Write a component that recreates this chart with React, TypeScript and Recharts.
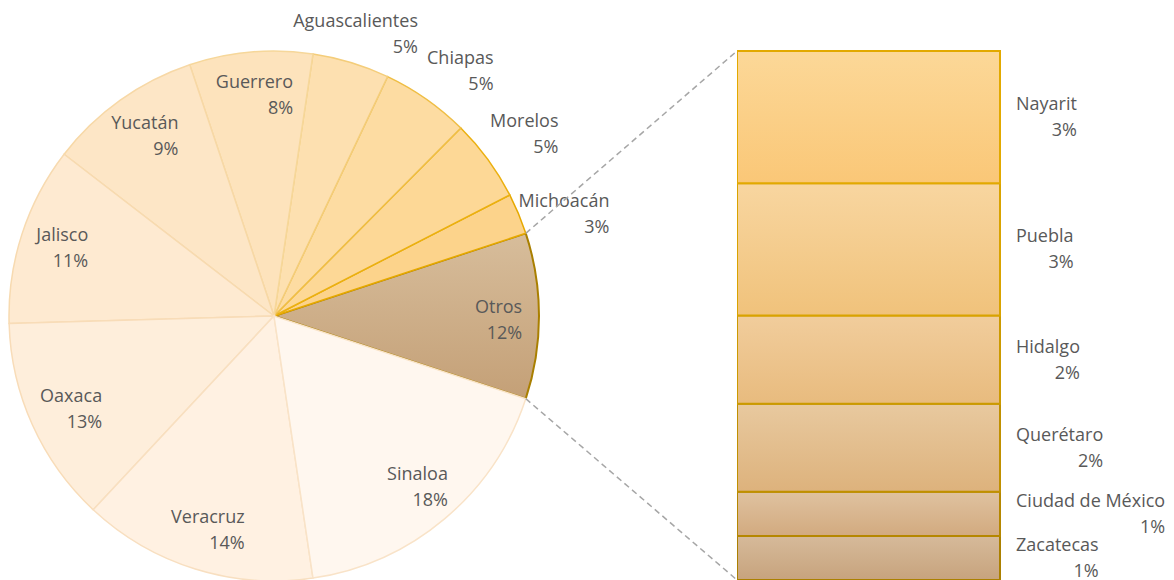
import { PieChart, Pie, Cell, BarChart, Bar, XAxis, YAxis, LabelList } from 'recharts'

// main pie, counter-clockwise from the "Otros" slice on the right
const pieNames = ['Otros', 'Michoacán', 'Morelos', 'Chiapas', 'Aguascalientes', 'Guerrero', 'Yucatán', 'Jalisco', 'Oaxaca', 'Veracruz', 'Sinaloa']
const pieValues = [10.1, 2.5, 5.0, 5.4, 4.7, 7.5, 9.4, 10.9, 12.6, 14.3, 17.6]
const pieLabels = ['12%', '3%', '5%', '5%', '5%', '8%', '9%', '11%', '13%', '14%', '18%']

// breakdown of "Otros", top to bottom
const barNames = ['Nayarit', 'Puebla', 'Hidalgo', 'Querétaro', 'Ciudad de México', 'Zacatecas']
const barValues = [3, 3, 2, 2, 1, 1]
const barLabels = ['3%', '3%', '2%', '2%', '1%', '1%']

const pieData = pieNames.map((name, i) => ({ name, value: pieValues[i], label: pieLabels[i] }))
const barRow: Record<string, number | string> = { cat: 'Otros' }
barNames.forEach((n, i) => { barRow['s' + i] = barValues[i] })
const barData = [barRow]

const pieFill = ['url(#otrosGrad)', '#fcd38b', '#fdd896', '#fddca2', '#fde0b0', '#fde3bc', '#fde6c6', '#feead1', '#feeedb', '#fff1e2', '#fff7ef']
const pieStroke = ['#a97f00', '#e6a900', '#ebb010', '#efbe45', '#f4cd7a', '#f6d79a', '#f7d8a6', '#f7dab0', '#f8dcb8', '#f8dfc0', '#f9e3c8']
const barGrad = [
  ['#fcd898', '#fac777'],
  ['#f8d6a0', '#f0c27b'],
  ['#f1cd9c', '#e8bb7e'],
  ['#e8c99f', '#ddb27c'],
  ['#dfc2a0', '#d2aa7f'],
  ['#d6ba9a', '#c7a37d'],
]
const barStroke = ['#e2a900', '#d9a300', '#cc9a00', '#c09000', '#b58700', '#ab8000']

const CX = 274
const CY = 316
const R = 265
const BAR_LEFT = 737
const BAR_TOP = 51
const BAR_H = 529

const font = '"Open Sans", Lato, sans-serif'
const fontSize = 18
const textColor = '#595959'

const outside = [false, true, true, true, true, false, false, false, false, false, false]
const nudge: Record<number, [number, number]> = { 0: [2, 3], 1: [4, 17], 3: [8, 8], 4: [-4, -2] }

function LabelBox({ x, y, name, pct }: { x: number; y: number; name: string; pct: string }) {
  return (
    <foreignObject x={x - 100} y={y - 30} width={200} height={60} style={{ overflow: 'visible' }}>
      <div style={{ width: 200, height: 60, display: 'flex', alignItems: 'center', justifyContent: 'center' }}>
        <div style={{ display: 'inline-block', textAlign: 'right', fontFamily: font, fontSize, lineHeight: '26px', color: textColor, whiteSpace: 'nowrap' }}>
          {name}<br />{pct}
        </div>
      </div>
    </foreignObject>
  )
}

function renderPieLabel(props: any) {
  const { cx, cy, midAngle, outerRadius, index } = props
  const f = index === 4 ? 1.11 : outside[index] ? 1.17 : 0.84
  const rad = (midAngle * Math.PI) / 180
  const [dx, dy] = nudge[index] ?? [0, 0]
  const x = cx + outerRadius * f * Math.cos(rad) + dx
  const y = cy - outerRadius * f * Math.sin(rad) + dy
  return <LabelBox key={index} x={x} y={y} name={pieNames[index]} pct={pieLabels[index]} />
}

function barLabel(i: number) {
  return (props: any) => {
    const { x, y, width, height } = props
    return (
      <foreignObject x={x + width + 16} y={y + height / 2 - 31} width={170} height={60} style={{ overflow: 'visible' }}>
        <div style={{ height: 60, display: 'flex', alignItems: 'center' }}>
          <div style={{ display: 'inline-block', textAlign: 'right', fontFamily: font, fontSize, lineHeight: '26px', color: textColor, whiteSpace: 'nowrap' }}>
            {barNames[i]}<br />{barLabels[i]}
          </div>
        </div>
      </foreignObject>
    )
  }
}

export default function App() {
  const total = pieValues.reduce((a, b) => a + b, 0)
  const half = (pieValues[0] / total) * 180
  const start = -half
  const rad = (half * Math.PI) / 180
  const px = CX + R * Math.cos(rad)
  const pyTop = CY - R * Math.sin(rad)
  const pyBot = CY + R * Math.sin(rad)
  // stacked bottom to top
  const order = barNames.map((_, i) => i).reverse()

  return (
    <div style={{ position: 'absolute', left: 0, top: 0, width: 1174, height: 580, background: '#fff', overflow: 'hidden' }}>
      <div style={{ position: 'absolute', left: 0, top: 0 }}>
        <PieChart width={700} height={580} margin={{ top: 0, right: 0, bottom: 0, left: 0 }}>
          <defs>
            <linearGradient id="otrosGrad" x1="0" y1="0" x2="0" y2="1">
              <stop offset="0%" stopColor="#d7bd9b" />
              <stop offset="100%" stopColor="#c4a077" />
            </linearGradient>
          </defs>
          <Pie
            data={pieData}
            dataKey="value"
            cx={CX}
            cy={CY}
            outerRadius={R}
            startAngle={start}
            endAngle={start + 360}
            isAnimationActive={false}
            label={renderPieLabel}
            labelLine={false}
          >
            {pieData.map((d, i) => (
              <Cell key={d.name} fill={pieFill[i]} stroke={pieStroke[i]} strokeWidth={i === 0 ? 2 : 1.5} />
            ))}
          </Pie>
        </PieChart>
      </div>
      <div style={{ position: 'absolute', left: BAR_LEFT, top: BAR_TOP - 10 }}>
        <BarChart width={437} height={BAR_H + 20} data={barData} margin={{ top: 10, right: 174, bottom: 10, left: 0 }} barCategoryGap={0}>
          <defs>
            {barGrad.map((g, i) => (
              <linearGradient key={i} id={'barGrad' + i} x1="0" y1="0" x2="0" y2="1">
                <stop offset="0%" stopColor={g[0]} />
                <stop offset="100%" stopColor={g[1]} />
              </linearGradient>
            ))}
          </defs>
          <XAxis dataKey="cat" hide />
          <YAxis hide domain={[0, 12]} />
          {order.map((i) => (
            <Bar key={i} dataKey={'s' + i} stackId="a" fill={`url(#barGrad${i})`} stroke={barStroke[i]} strokeWidth={2} isAnimationActive={false}>
              <LabelList dataKey={'s' + i} content={barLabel(i)} />
            </Bar>
          ))}
        </BarChart>
      </div>
      <svg width={1174} height={580} style={{ position: 'absolute', left: 0, top: 0, pointerEvents: 'none' }}>
        <line x1={px} y1={pyTop} x2={BAR_LEFT} y2={BAR_TOP} stroke="#a6a6a6" strokeWidth={1.5} strokeDasharray="6 4" />
        <line x1={px} y1={pyBot} x2={BAR_LEFT} y2={BAR_TOP + BAR_H} stroke="#a6a6a6" strokeWidth={1.5} strokeDasharray="6 4" />
      </svg>
    </div>
  )
}
